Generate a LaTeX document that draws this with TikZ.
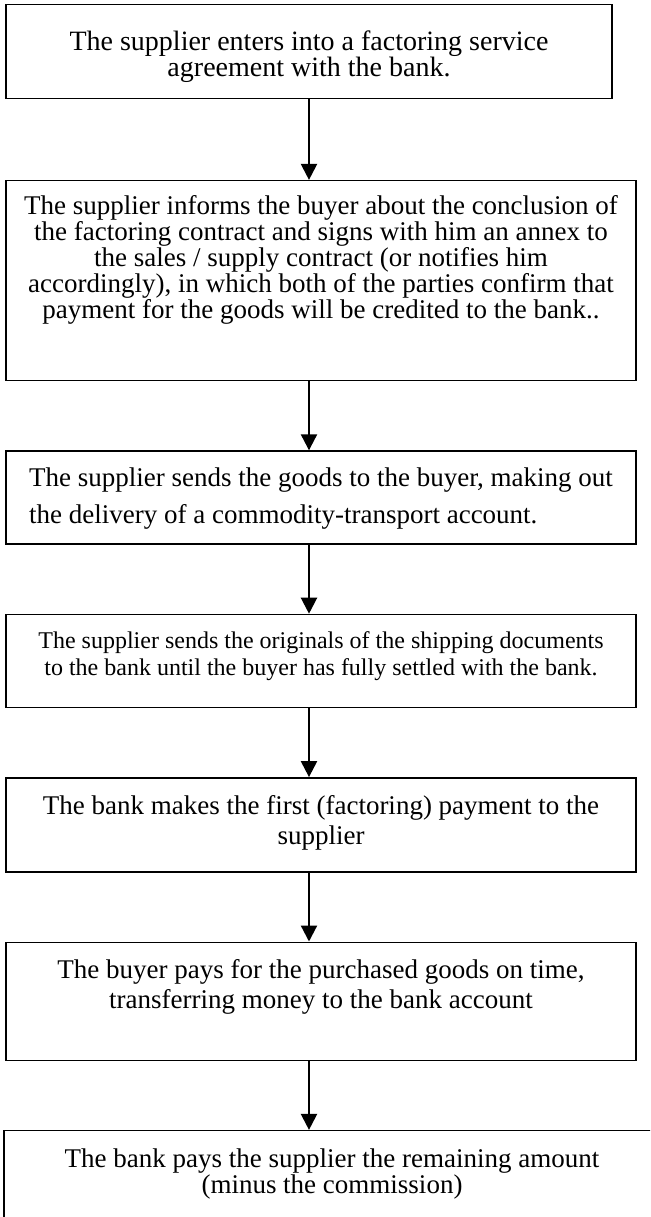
\documentclass[tikz,border=0pt]{standalone}
\usepackage{fontspec}
\setmainfont{Liberation Serif}
\usetikzlibrary{chains,positioning,arrows.meta}

\begin{document}
\begin{tikzpicture}[
  node distance=34.5pt,
  every node/.style={draw,rectangle,line width=0.7pt,inner xsep=4pt,inner ysep=0pt,
    minimum width=315pt,align=center,font=\fontsize{13.5}{13}\selectfont,on chain},
  every edge/.style={draw,line width=1.1pt},
  >={Triangle[width=8pt,length=8pt]},
  start chain=going below,
  ]
  \useasboundingbox (0,0) rectangle (325pt,-608.5pt);
  \clip (0,0) rectangle (325pt,-608.5pt);
  \node[minimum width=303pt,text height=36pt,text depth=11pt,anchor=north,
    font=\fontsize{14}{13}\selectfont] (n1) at (154.5pt,-2pt)
    {The supplier enters into a factoring service\\agreement with the bank.};
  \node[xshift=6pt,yshift=-5.75pt,text height=69pt,text depth=31pt] (n2)
    {The supplier informs the buyer about the conclusion of\\
     the factoring contract and signs with him an annex to\\
     the sales / supply contract (or notifies him\\
     accordingly), in which both of the parties confirm that\\
     payment for the goods will be credited to the bank..};
  \node[align=left,text height=36pt,text depth=10.5pt,font=\fontsize{13.5}{18.5}\selectfont] (n3)
    {The supplier sends the goods to the buyer, making out\\
     the delivery of a commodity-transport account.};
  \node[text height=30.5pt,text depth=16pt,font=\fontsize{12}{13.5}\selectfont] (n4)
    {The supplier sends the originals of the shipping documents\\
     to the bank until the buyer has fully settled with the bank.};
  \node[text height=33.5pt,text depth=13.5pt,font=\fontsize{13.5}{15}\selectfont] (n5)
    {The bank makes the first (factoring) payment to the\\supplier};
  \node[text height=33pt,text depth=26pt,font=\fontsize{13.5}{15}\selectfont] (n6)
    {The buyer pays for the purchased goods on time,\\
     transferring money to the bank account};
  \node[xshift=5.5pt,minimum width=328pt,text height=31.5pt,text depth=38.5pt] (n7)
    {The bank pays the supplier the remaining amount\\(minus the commission)};
  \path[->]
  (n1.south) edge (n1.south |- n2.north)
  (n2.south -| n1) edge (n3.north -| n1)
  (n3.south -| n1) edge (n4.north -| n1)
  (n4.south -| n1) edge (n5.north -| n1)
  (n5.south -| n1) edge (n6.north -| n1)
  (n6.south -| n1) edge (n7.north -| n1);
\end{tikzpicture}
\end{document}
